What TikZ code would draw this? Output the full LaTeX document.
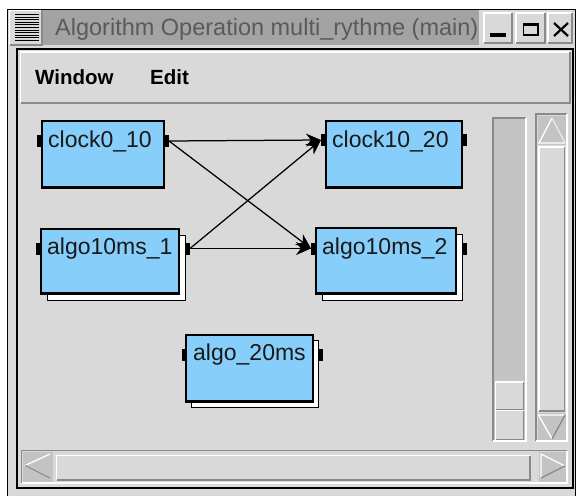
\documentclass[tikz,border=0pt]{standalone}
\usepackage{fontspec}
\setmainfont{Liberation Sans}
\usetikzlibrary{arrows.meta,calc}
\definecolor{bgc}{HTML}{D9D9D9}
\definecolor{titlec}{HTML}{A3A3A3}
\definecolor{titletxt}{HTML}{5A5A5A}
\definecolor{darkbev}{HTML}{8A8A8A}
\definecolor{troughc}{HTML}{C3C3C3}
\definecolor{boxc}{HTML}{87CEFA}
\newcommand\myraised[5][bgc]{%
  \fill[#1] (#2,#3) rectangle (#4,#5);
  \draw[white,line width=1.6pt] (#2,#5) -- (#2,#3) -- (#4,#3);
  \draw[darkbev,line width=1.6pt] (#2,#5) -- (#4,#5) -- (#4,#3);}
\newcommand\mysunken[5][bgc]{%
  \fill[#1] (#2,#3) rectangle (#4,#5);
  \draw[darkbev,line width=1.6pt] (#2,#5) -- (#2,#3) -- (#4,#3);
  \draw[white,line width=1.6pt] (#2,#5) -- (#4,#5) -- (#4,#3);}
\begin{document}
\begin{tikzpicture}[x=1pt,y=-1pt,
  tbox/.style={draw=black,fill=boxc,line width=1.2pt,anchor=north west,inner sep=0pt,outer sep=0pt},
  shadowbox/.style={draw=black,fill=white,line width=1pt},
  port/.style={fill=black,minimum width=5pt,minimum height=12pt,inner sep=0pt,outer sep=0pt},
  lbl/.style={anchor=base west,inner sep=0pt,text=black!90,font=\fontsize{23}{23}\selectfont},
  conn/.style={line width=1.25pt,-{Stealth[length=15pt,width=13pt]}},
  menu/.style={anchor=base west,inner sep=0pt,font=\fontsize{20.5}{20.5}\selectfont\bfseries}]
\useasboundingbox (0,0) rectangle (577,495);
\fill[white] (0,0) rectangle (577,495);
\begin{scope}
\clip (0,0) rectangle (577,495);
% outer window frame
\draw[fill=bgc,line width=1.2pt] (7.5,9.5) rectangle (575.5,500);
\end{scope}
% title bar
\myraised{9.5}{10.5}{42}{45}
\foreach \i in {0,...,10} \draw[black,line width=0.9pt] (15,14.5+2.6*\i) -- (39,14.5+2.6*\i);
\fill[titlec] (43,10) rectangle (479,45);
\node[anchor=base west,inner sep=0pt,text=titletxt,font=\fontsize{23.5}{23.5}\selectfont] (title) at (55,36) {Algorithm Operation multi\_rythme (main)};
\myraised{484}{13}{512}{43}
\myraised{516}{13}{545}{43}
\myraised{548}{13}{572}{43}
\fill[black] (490,33) rectangle (506,37);
\draw[black,line width=1.5pt] (523.5,23.5) rectangle (538,35);
\fill[black] (523,23) rectangle (538.5,26.5);
\draw[black,line width=2.2pt] (554,23) -- (568,36) (568,23) -- (554,36);
% inner frame
\draw[fill=bgc,line width=1.5pt] (17,49) rectangle (573,488);
% menu bar
\myraised{20.5}{52}{570}{103}
\node[menu] (mwin) at (35,84) {Window};
\node[menu] (medit) at (150,84) {Edit};
% left vertical scale
\mysunken[troughc]{493}{118}{526}{441}
\myraised{495.5}{382}{523.5}{410}
\myraised{495.5}{410.5}{523.5}{439.5}
% right vertical scrollbar
\mysunken{536}{114}{567}{441}
\fill[troughc] (537.5,115.5) rectangle (565.5,145);
\draw[white,line width=1.3pt] (552,118) -- (539,143) -- (565,143);
\draw[white!80!darkbev,line width=1.3pt] (552,118) -- (565,143);
\myraised{539}{147}{564.5}{411}
\fill[troughc] (537.5,413) rectangle (565.5,439.5);
\draw[white,line width=1.3pt] (552,439) -- (538.5,415) -- (565,415);
\draw[darkbev,line width=1.3pt] (552,439) -- (565,415);
% horizontal scrollbar
\mysunken{21.5}{450.5}{567}{483}
\fill[troughc] (22.5,452) rectangle (53,481.5);
\draw[white,line width=1.3pt] (50,478) -- (25,465.5) -- (50,454);
\draw[darkbev,line width=1.3pt] (50,478) -- (25,465.5);
\myraised{56.5}{455.5}{530}{480}
\fill[troughc] (539,452) rectangle (565.5,481.5);
\draw[white,line width=1.3pt] (541,478) -- (541,454) -- (565,466);
\draw[darkbev,line width=1.3pt] (541,478) -- (565,466);
% shadow boxes
\draw[shadowbox] (47,235) rectangle (185,300);
\draw[shadowbox] (322,234) rectangle (462,300);
\draw[shadowbox] (191,340) rectangle (318,407);
% boxes
\node[tbox,minimum width=122pt,minimum height=67pt] (c0) at (42,121) {};
\node[tbox,minimum width=136pt,minimum height=67pt] (c1) at (326,121) {};
\node[tbox,minimum width=138pt,minimum height=65pt] (a1) at (41,229) {};
\node[tbox,minimum width=140pt,minimum height=66pt] (a2) at (316,228) {};
\node[tbox,minimum width=127pt,minimum height=67pt] (a3) at (186,335) {};
\foreach \b in {c0,c1,a1,a2,a3}
  \draw[line width=2.4pt] ([yshift=0.8pt]\b.south west) -- ([yshift=0.8pt]\b.south east);
% labels
\node[lbl] (c0t) at (48,147) {clock0\_10};
\node[lbl] (c1t) at (332,147) {clock10\_20};
\node[lbl] (a1t) at (47,254) {algo10ms\_1};
\node[lbl] (a2t) at (322,254) {algo10ms\_2};
\node[lbl] (a3t) at (193,360) {algo\_20ms};
% ports
\node[port] (c0l) at (39.5,141) {};
\node[port] (c0r) at (166.5,141) {};
\node[port] (c1l) at (323.5,140) {};
\node[port] (c1r) at (464.5,140) {};
\node[port] (a1l) at (38.5,248.5) {};
\node[port] (a1r) at (187.5,248.5) {};
\node[port] (a2l) at (313.5,248.5) {};
\node[port] (a2r) at (464.5,248.5) {};
\node[port] (a3l) at (184,355) {};
\node[port] (a3r) at (320.5,355) {};
% connectors
\draw[conn] (c0r.east) -- (c1l.west);
\draw[conn] (c0r.east) -- (a2l.west);
\draw[conn] (a1r.east) -- (c1l.west);
\draw[conn] (a1r.east) -- (a2l.west);
\end{tikzpicture}
\end{document}
